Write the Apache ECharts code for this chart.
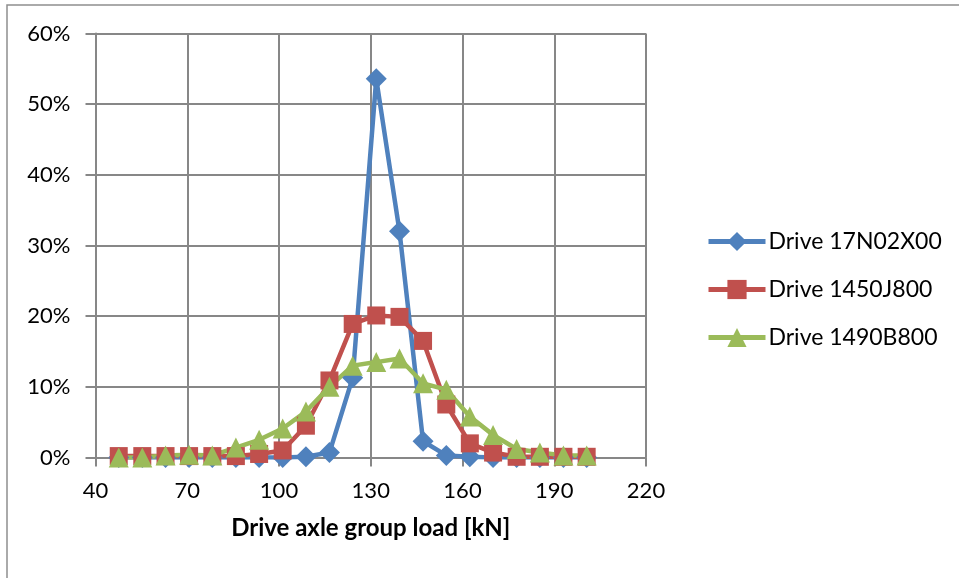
<!DOCTYPE html>
<html>
<head>
<meta charset="utf-8">
<script src="https://cdn.jsdelivr.net/npm/echarts@6/dist/echarts.min.js"></script>
<style>
  html, body { margin: 0; padding: 0; background: #ffffff; }
  #chart { width: 959px; height: 578px; }
</style>
</head>
<body>
<div id="chart"></div>
<script>
// Load bin centres along the x axis (kN)
const loads = [47.6, 55.3, 62.9, 70.6, 78.2, 85.9, 93.5, 101.2, 108.8, 116.5, 124.1,
               131.8, 139.4, 147.1, 154.7, 162.4, 170.0, 177.7, 185.3, 193.0, 200.6];

// Share of drive axle groups in each load bin (%)
const drive17N02X00 = [0, 0, 0, 0, 0, 0, 0, 0, 0.1, 0.7, 11.3,
                       53.6, 32.0, 2.3, 0.3, 0.1, 0, 0, 0, 0, 0];
const drive1450J800 = [0.2, 0.2, 0.2, 0.2, 0.2, 0.2, 0.5, 1.0, 4.5, 10.9, 18.9,
                       20.1, 19.9, 16.5, 7.5, 2.0, 0.7, 0.1, 0.1, 0.1, 0.1];
const drive1490B800 = [0, 0, 0.3, 0.4, 0.3, 1.4, 2.5, 4.1, 6.5, 10.0, 13.0,
                       13.5, 14.0, 10.5, 9.6, 5.8, 3.2, 1.2, 0.7, 0.3, 0.3];

const seriesNames = ['Drive 17N02X00', 'Drive 1450J800', 'Drive 1490B800'];
const xTicks = [40, 70, 100, 130, 160, 190, 220];
const yTicks = [0, 10, 20, 30, 40, 50, 60];

const pairs = (vals) => loads.map((x, i) => [x, vals[i]]);

const font = 'Lato, "Liberation Sans", sans-serif';
const axisGray = '#878787';

const chart = echarts.init(document.getElementById('chart'), null, { renderer: 'canvas' });

function lineSeries(name, vals, color, symbol, size) {
  return {
    name: name,
    type: 'line',
    data: pairs(vals),
    symbol: symbol,
    symbolSize: size,
    showAllSymbol: true,
    lineStyle: { color: color, width: 4.5 },
    itemStyle: { color: color, borderWidth: 0 },
    emphasis: { disabled: true }
  };
}

chart.setOption({
  animation: false,
  backgroundColor: '#ffffff',
  graphic: [{
    type: 'rect',
    shape: { x: 7, y: 5, width: 990, height: 620 },
    style: { fill: 'none', stroke: '#8e8e8e', lineWidth: 1.5 },
    silent: true,
    z: -10
  }],
  grid: { left: 95.5, right: 313, top: 33.5, bottom: 120.5, containLabel: false },
  legend: {
    orient: 'vertical',
    left: 706,
    top: 230,
    padding: 0,
    itemWidth: 57,
    itemHeight: 24,
    itemGap: 25,
    lineStyle: { width: 5 },
    textStyle: { fontFamily: font, fontSize: 23, color: '#000000', padding: [0, 0, 0, -2] },
    data: seriesNames
  },
  xAxis: {
    type: 'value',
    min: xTicks[0],
    max: xTicks[xTicks.length - 1],
    interval: 30,
    name: 'Drive axle group load [kN]',
    nameLocation: 'middle',
    nameGap: 59,
    nameTextStyle: { fontFamily: font, fontSize: 24, fontWeight: 'bold', color: '#000000' },
    axisLine: { show: true, onZero: false, lineStyle: { color: axisGray, width: 2 } },
    axisTick: { show: true, length: 9, lineStyle: { color: axisGray, width: 2 } },
    axisLabel: { margin: 22, fontFamily: font, fontSize: 22, color: '#000000' },
    splitLine: { show: true, lineStyle: { color: axisGray, width: 2 } }
  },
  yAxis: {
    type: 'value',
    min: yTicks[0],
    max: yTicks[yTicks.length - 1],
    interval: 10,
    axisLine: { show: true, lineStyle: { color: axisGray, width: 2 } },
    axisTick: { show: true, length: 10, lineStyle: { color: axisGray, width: 2 } },
    axisLabel: { margin: 25, fontFamily: font, fontSize: 22, color: '#000000', formatter: '{value}%' },
    splitLine: { show: true, lineStyle: { color: axisGray, width: 2 } }
  },
  series: [
    lineSeries(seriesNames[0], drive17N02X00, '#4F81BD', 'diamond', 21),
    lineSeries(seriesNames[1], drive1450J800, '#C0504D', 'rect', 18),
    lineSeries(seriesNames[2], drive1490B800, '#9BBB59', 'triangle', 20)
  ]
});
</script>
</body>
</html>
